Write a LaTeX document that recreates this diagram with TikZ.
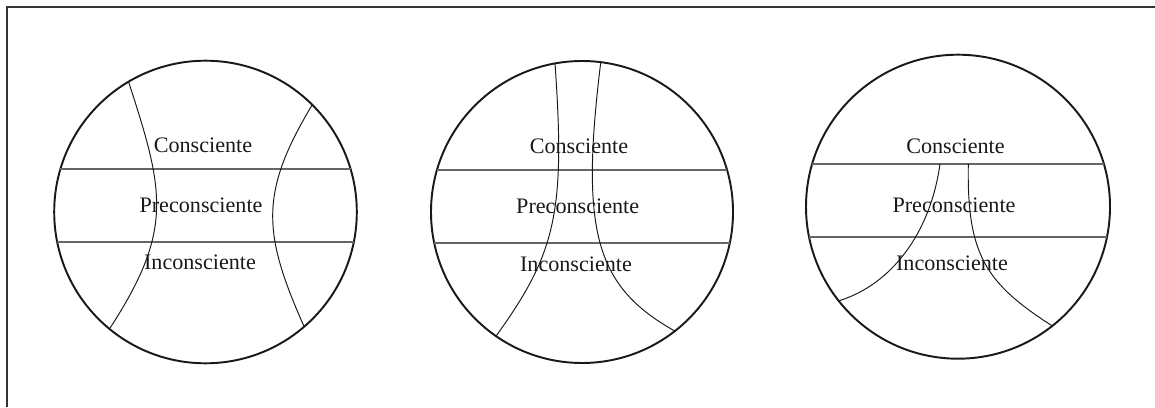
\documentclass[tikz,border=0pt]{standalone}
\usepackage{fontspec}
\setmainfont{Liberation Serif}

\begin{document}
\begin{tikzpicture}[
    font=\fontsize{12.6}{15}\selectfont,
    outerframe/.style={draw=black!80, line width=1.2pt},
    ball/.style={draw=black!90, line width=1.1pt},
    levelline/.style={draw=black!60, line width=0.65pt},
    divider/.style={draw=black!90, line width=0.55pt},
    zonetxt/.style={anchor=base, inner sep=0pt, text=black!90},
]
\useasboundingbox (0,0) rectangle (23.1,8.14);

% --- Outer frame (only left and top edges inside the page) ---
\draw[outerframe] (0.134,0) -- (0.134,7.994) -- (23.1,7.994);

% --- Left ball: both dividers bow toward the middle ---
\draw[ball] (4.11,3.90) circle (3.026);
\draw[levelline] (1.209,4.76) -- (7.011,4.76);
\draw[levelline] (1.144,3.30) -- (7.076,3.30);
\draw[divider] (2.566,6.52) .. controls (3.282,4.32) and (3.482,3.542) .. (2.189,1.561);
\draw[divider] (6.245,6.045) .. controls (5.188,4.284) and (5.248,3.484) .. (6.083,1.606);
\node[zonetxt] (con1) at (4.06,5.086) {Consciente};
\node[zonetxt] (pre1) at (4.02,3.894) {Preconsciente};
\node[zonetxt] (inc1) at (4.00,2.74) {Inconsciente};

% --- Middle ball: dividers meet near the top, spread at the bottom ---
\draw[ball] (11.64,3.90) circle (3.02);
\draw[levelline] (8.739,4.74) -- (14.541,4.74);
\draw[levelline] (8.684,3.28) -- (14.596,3.28);
\draw[divider] (11.10,6.874) .. controls (11.31,3.88) and (11.116,3.08) .. (9.92,1.417);
\draw[divider] (12.014,6.886) .. controls (11.60,3.51) and (11.906,2.412) .. (13.497,1.519);
\node[zonetxt] (con2) at (11.58,5.073) {Consciente};
\node[zonetxt] (pre2) at (11.554,3.873) {Preconsciente};
\node[zonetxt] (inc2) at (11.52,2.706) {Inconsciente};

% --- Right ball: dividers start at the upper level line ---
\draw[ball] (19.16,4.006) circle (3.04);
\draw[levelline] (16.242,4.86) -- (22.078,4.86);
\draw[levelline] (16.181,3.40) -- (22.139,3.40);
\draw[divider] (18.80,4.86) .. controls (18.606,3.474) and (17.826,2.444) .. (16.773,2.123);
\draw[divider] (19.366,4.86) .. controls (19.336,3.06) and (19.698,2.484) .. (21.045,1.622);
\node[zonetxt] (con3) at (19.11,5.073) {Consciente};
\node[zonetxt] (pre3) at (19.08,3.894) {Preconsciente};
\node[zonetxt] (inc3) at (19.04,2.726) {Inconsciente};

\end{tikzpicture}
\end{document}
